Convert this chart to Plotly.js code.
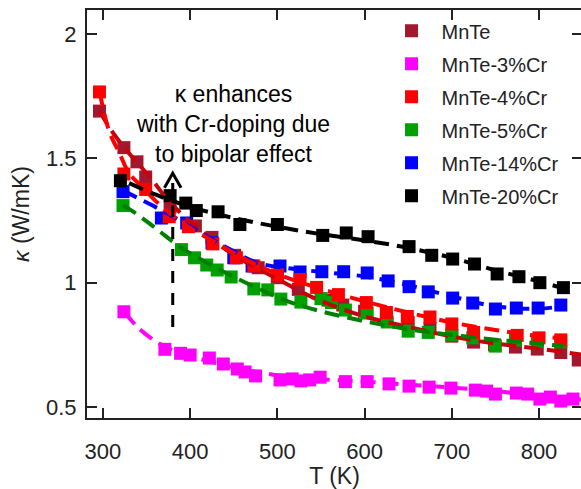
<!DOCTYPE html>
<html>
<head>
<meta charset="utf-8">
<script src="https://cdn.plot.ly/plotly-3.0.1.min.js"></script>
<style>
html,body{margin:0;padding:0;overflow:hidden;background:#fff;}
#chart{width:584px;height:489px;}
</style>
</head>
<body>
<div id="chart"></div>
<script>
// ---- Data ----
const seriesNames = ["MnTe", "MnTe-3%Cr", "MnTe-4%Cr", "MnTe-5%Cr", "MnTe-14%Cr", "MnTe-20%Cr"];

// measured points
const T_MnTe = [296, 324, 339, 349, 377, 406, 425, 451, 478, 500, 524, 558, 575, 600, 625, 650, 675, 700, 725, 749, 773, 798, 825, 845];
const K_MnTe = [1.69, 1.543, 1.486, 1.425, 1.304, 1.228, 1.182, 1.11, 1.06, 1.02, 0.973, 0.93, 0.91, 0.885, 0.86, 0.84, 0.815, 0.785, 0.761, 0.75, 0.741, 0.733, 0.719, 0.689];

const T_Cr3 = [324, 371, 389, 400, 422, 438, 454, 463, 475, 503, 517, 527, 537, 549, 578, 603, 628, 651, 674, 699, 727, 740, 750, 774, 787, 801, 813, 825, 839];
const K_Cr3 = [0.883, 0.732, 0.716, 0.709, 0.697, 0.673, 0.653, 0.641, 0.625, 0.609, 0.613, 0.605, 0.609, 0.62, 0.602, 0.602, 0.593, 0.584, 0.58, 0.576, 0.568, 0.564, 0.552, 0.556, 0.552, 0.532, 0.54, 0.524, 0.532];

const T_Cr4 = [296, 324, 349, 376, 398, 426, 453, 473, 500, 526, 545, 570, 602, 625, 649, 675, 700, 725, 775, 800, 825];
const K_Cr4 = [1.767, 1.437, 1.375, 1.265, 1.225, 1.156, 1.10, 1.067, 1.031, 1.013, 0.981, 0.952, 0.92, 0.88, 0.864, 0.862, 0.834, 0.80, 0.788, 0.778, 0.77];

const T_Cr5 = [323, 390, 405, 419, 431, 447, 473, 489, 504, 527, 550, 562, 578, 603, 626, 650, 673, 700, 724, 750, 773, 798, 825];
const K_Cr5 = [1.31, 1.133, 1.10, 1.071, 1.051, 1.023, 0.975, 0.971, 0.934, 0.922, 0.936, 0.92, 0.89, 0.878, 0.842, 0.805, 0.80, 0.79, 0.778, 0.745, 0.769, 0.765, 0.762];

const T_Cr14 = [323, 367, 396, 425, 450, 471, 503, 526, 551, 576, 603, 627, 651, 673, 701, 724, 750, 774, 799, 825];
const K_Cr14 = [1.366, 1.26, 1.24, 1.16, 1.10, 1.067, 1.067, 1.043, 1.044, 1.044, 1.039, 1.007, 0.984, 0.963, 0.938, 0.918, 0.894, 0.898, 0.898, 0.91];

const T_Cr20 = [320, 377, 395, 407, 432, 457, 500, 552, 579, 604, 651, 677, 701, 726, 752, 777, 801, 828];
const K_Cr20 = [1.41, 1.35, 1.32, 1.29, 1.285, 1.234, 1.234, 1.19, 1.20, 1.185, 1.145, 1.11, 1.095, 1.075, 1.035, 1.024, 1.0, 0.98];

// dashed fit curves
const fitT_MnTe = [296, 310, 324, 340, 355, 375, 400, 430, 460, 500, 541, 598, 651, 698, 740, 803, 850];
const fitK_MnTe = [1.69, 1.61, 1.545, 1.48, 1.42, 1.33, 1.245, 1.16, 1.09, 1.015, 0.94, 0.866, 0.822, 0.785, 0.76, 0.733, 0.71];

const fitT_Cr3 = [325, 340, 360, 380, 400, 450, 500, 550, 600, 650, 700, 750, 800, 850];
const fitK_Cr3 = [0.88, 0.82, 0.765, 0.728, 0.705, 0.66, 0.628, 0.612, 0.602, 0.59, 0.578, 0.564, 0.545, 0.53];

const fitT_Cr4 = [296, 307, 319, 330, 345, 360, 380, 400, 430, 460, 500, 550, 600, 650, 700, 750, 800, 830];
const fitK_Cr4 = [1.77, 1.61, 1.52, 1.44, 1.385, 1.33, 1.27, 1.22, 1.16, 1.10, 1.035, 0.975, 0.925, 0.88, 0.84, 0.81, 0.785, 0.775];

const fitT_Cr5 = [323, 333, 360, 390, 419, 449, 479, 512, 550, 600, 646, 700, 753, 800, 828];
const fitK_Cr5 = [1.31, 1.29, 1.22, 1.14, 1.08, 1.025, 0.975, 0.925, 0.885, 0.845, 0.815, 0.79, 0.77, 0.755, 0.745];

const fitT_Cr14 = [323, 357, 388, 420, 448, 477, 520, 560, 600, 650, 700, 750, 800, 825];
const fitK_Cr14 = [1.37, 1.31, 1.25, 1.185, 1.13, 1.08, 1.055, 1.04, 1.025, 0.99, 0.945, 0.905, 0.895, 0.905];

const fitT_Cr20 = [330, 360, 400, 450, 500, 550, 600, 650, 700, 750, 800, 830];
const fitK_Cr20 = [1.40, 1.355, 1.305, 1.26, 1.225, 1.195, 1.17, 1.14, 1.10, 1.05, 1.005, 0.975];

// axis ticks
const xTickVals = [300, 400, 500, 600, 700, 800];
const xTickText = ["300", "400", "500", "600", "700", "800"];
const yTickVals = [0.5, 1, 1.5, 2];
const yTickText = ["0.5", "1", "1.5", "2"];

// annotation (arrow) positions
const arrowT = 380;
const arrowK = [0.822, 1.44];

// ---- Styles ----
const markerColors = ["#A3182F", "#FF00FF", "#FF0000", "#00A000", "#0000FF", "#000000"];
const lineColors = ["#C8000A", "#FF00FF", "#FF0000", "#008000", "#0000FF", "#000000"];

const pts = [
  [T_MnTe, K_MnTe], [T_Cr3, K_Cr3], [T_Cr4, K_Cr4], [T_Cr5, K_Cr5], [T_Cr14, K_Cr14], [T_Cr20, K_Cr20]
];
const fits = [
  [fitT_MnTe, fitK_MnTe], [fitT_Cr3, fitK_Cr3], [fitT_Cr4, fitK_Cr4], [fitT_Cr5, fitK_Cr5], [fitT_Cr14, fitK_Cr14], [fitT_Cr20, fitK_Cr20]
];

const drawOrder = [0, 1, 3, 4, 2, 5];
const traces = [];
drawOrder.forEach(i => {
  traces.push({
    type: 'scatter', mode: 'markers', name: seriesNames[i],
    x: pts[i][0], y: pts[i][1],
    marker: {symbol: 'square', size: 13, color: markerColors[i], line: {width: 0}},
    legendrank: i + 1, legendgroup: 'g' + i
  });
});
drawOrder.forEach(i => {
  traces.push({
    type: 'scatter', mode: 'lines', showlegend: false,
    x: fits[i][0], y: fits[i][1],
    line: {color: lineColors[i], width: 4, dash: '15px,8px', shape: 'spline', smoothing: 1},
    hoverinfo: 'skip'
  });
});

const axisCommon = {
  showgrid: false, zeroline: false, showline: true, linewidth: 2, linecolor: '#222',
  mirror: 'ticks', ticks: 'inside', ticklen: 10, tickwidth: 2, tickcolor: '#222',
  tickfont: {family: 'Liberation Sans, Arial, sans-serif', size: 22, color: '#222'},
  automargin: false
};

const layout = {
  width: 584, height: 489,
  margin: {l: 87, r: 2, t: 10, b: 71},
  paper_bgcolor: '#fff', plot_bgcolor: '#fff',
  font: {family: 'Liberation Sans, Arial, sans-serif', color: '#222'},
  showlegend: true,
  legend: {
    x: 0.595, y: 0.997, xanchor: 'left', yanchor: 'top',
    bgcolor: 'rgba(0,0,0,0)', borderwidth: 0,
    font: {size: 20, color: '#222'},
    traceorder: 'grouped', tracegroupgap: 4, itemwidth: 50
  },
  xaxis: Object.assign({}, axisCommon, {
    range: [281.7, 849.3], tickvals: xTickVals, ticktext: xTickText,
    ticklabelstandoff: 13,
    title: {text: 'T (K)', font: {size: 23, color: '#222'}, standoff: 8}
  }),
  yaxis: Object.assign({}, axisCommon, {
    range: [0.4558, 2.0965], tickvals: yTickVals, ticktext: yTickText,
    ticklabelstandoff: 4,
    title: {text: '<i>κ</i> (W/mK)', font: {size: 23, color: '#222'}, standoff: 10}
  }),
  annotations: [{
    x: 449, y: 1.638, xref: 'x', yref: 'y', showarrow: false,
    text: 'κ enhances<br>with Cr-doping due<br>to bipolar effect',
    font: {size: 23, color: '#000'}, align: 'center'
  }],
  shapes: [
    {type: 'line', xref: 'x', yref: 'y', x0: arrowT, x1: arrowT, y0: arrowK[0], y1: arrowK[1] - 0.005,
     line: {color: '#000', width: 3, dash: '12px,10px'}},
    {type: 'path', xref: 'x', yref: 'y',
     path: 'M ' + (arrowT - 9.5) + ',' + (arrowK[1] - 0.058) + ' L ' + arrowT + ',' + arrowK[1] + ' L ' + (arrowT + 9.5) + ',' + (arrowK[1] - 0.058),
     line: {color: '#000', width: 3}}
  ]
};

Plotly.newPlot('chart', traces, layout, {displayModeBar: false, staticPlot: true});
</script>
</body>
</html>
